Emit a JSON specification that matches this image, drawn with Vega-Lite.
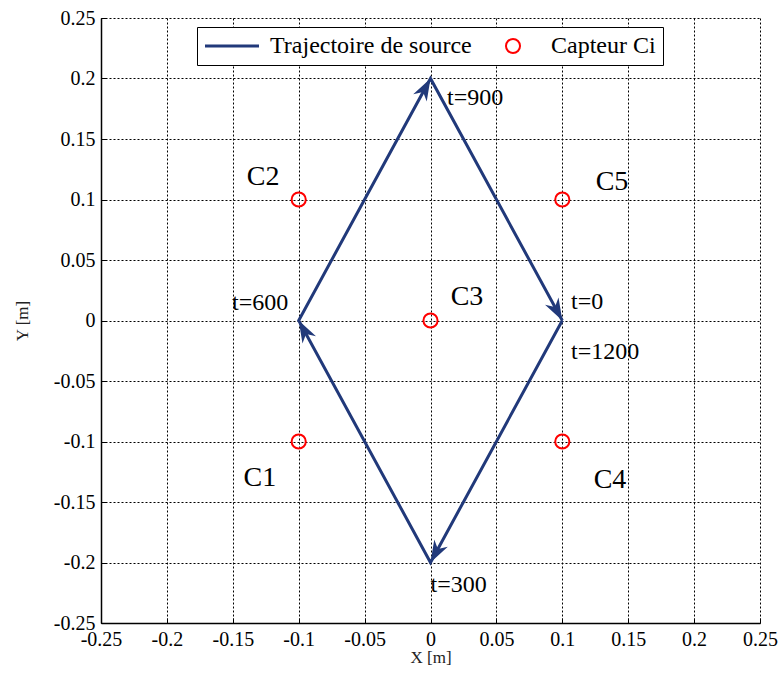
{
  "$schema": "https://vega.github.io/schema/vega-lite/v6.json",
  "width": 659,
  "height": 605,
  "autosize": {"type": "none"},
  "padding": {"left": 101, "top": 18, "right": 22, "bottom": 55},
  "background": "white",
  "config": {
    "view": {"stroke": null},
    "font": "Liberation Serif",
    "axis": {
      "grid": true,
      "gridColor": "black",
      "gridDash": [2, 2],
      "gridWidth": 1,
      "gridOpacity": 1,
      "domainColor": "black",
      "domainWidth": 1.5,
      "tickColor": "black",
      "tickSize": -5,
      "labelPadding": 11,
      "labelFont": "Liberation Serif",
      "labelFontSize": 20,
      "labelColor": "black",
      "titleFont": "Liberation Serif",
      "titleFontSize": 17,
      "titleFontWeight": "normal",
      "titleColor": "#222222"
    },
    "text": {"font": "Liberation Serif"}
  },
  "datasets": {
    "traj": [
      {"t": 0, "x": 0.1, "y": 0},
      {"t": 300, "x": 0, "y": -0.2},
      {"t": 600, "x": -0.1, "y": 0},
      {"t": 900, "x": 0, "y": 0.2},
      {"t": 1200, "x": 0.1, "y": 0}
    ],
    "tlabels": [
      {"label": "t=0", "lx": 0.1066, "ly": 0.0153},
      {"label": "t=300", "lx": 0.0, "ly": -0.2186},
      {"label": "t=600", "lx": -0.1506, "ly": 0.0141},
      {"label": "t=900", "lx": 0.0125, "ly": 0.184},
      {"label": "t=1200", "lx": 0.1066, "ly": -0.026}
    ],
    "sensors": [
      {"name": "C1", "x": -0.1, "y": -0.1, "lx": -0.1294, "ly": -0.13},
      {"name": "C2", "x": -0.1, "y": 0.1, "lx": -0.127, "ly": 0.1186},
      {"name": "C3", "x": 0, "y": 0, "lx": 0.0277, "ly": 0.0194},
      {"name": "C4", "x": 0.1, "y": -0.1, "lx": 0.1362, "ly": -0.1318},
      {"name": "C5", "x": 0.1, "y": 0.1, "lx": 0.1377, "ly": 0.1145}
    ]
  },
  "layer": [
    {
      "data": {"name": "traj"},
      "mark": {"type": "line", "strokeWidth": 3},
      "encoding": {
        "x": {
          "field": "x",
          "type": "quantitative",
          "scale": {"domain": [-0.25, 0.25], "nice": false, "zero": false},
          "axis": {
            "title": "X [m]",
            "values": [-0.25, -0.2, -0.15, -0.1, -0.05, 0, 0.05, 0.1, 0.15, 0.2, 0.25],
            "labelExpr": "datum.value + ''",
            "labelFlush": false,
            "titlePadding": 0
          }
        },
        "y": {
          "field": "y",
          "type": "quantitative",
          "scale": {"domain": [-0.25, 0.25], "nice": false, "zero": false},
          "axis": {
            "title": "Y [m]",
            "values": [-0.25, -0.2, -0.15, -0.1, -0.05, 0, 0.05, 0.1, 0.15, 0.2, 0.25],
            "labelExpr": "datum.value + ''",
            "labelFlush": false,
            "titlePadding": 22
          }
        },
        "order": {"field": "t", "type": "quantitative"},
        "color": {
          "datum": "Trajectoire de source",
          "type": "nominal",
          "scale": {"domain": ["Trajectoire de source", "Capteur Ci"], "range": ["#21397a", "#ff0000"]},
          "legend": {
            "title": null,
            "orient": "none",
            "legendX": 96,
            "legendY": 9,
            "direction": "horizontal",
            "strokeColor": "black",
            "fillColor": "white",
            "padding": 7,
            "labelFont": "Liberation Serif",
            "labelFontSize": 24,
            "labelColor": "black",
            "labelLimit": 0,
            "labelOffset": 26,
            "symbolOffset": 16,
            "columnPadding": 13,
            "symbolType": "stroke",
            "symbolSize": 2916,
            "symbolStrokeWidth": 3,
            "encode": {
              "symbols": {
                "update": {
                  "shape": {"signal": "datum.value === 'Capteur Ci' ? 'M0.26,0C0.26,0.1436 0.1436,0.26 0,0.26C-0.1436,0.26 -0.26,0.1436 -0.26,0C-0.26,-0.1436 -0.1436,-0.26 0,-0.26C0.1436,-0.26 0.26,-0.1436 0.26,0Z' : 'stroke'"},
                  "strokeWidth": {"signal": "datum.value === 'Capteur Ci' ? 2 : 3"},
                  "fill": {"value": "transparent"}
                }
              }
            }
          }
        }
      }
    },
    {
      "mark": {"type": "rule", "color": "black", "strokeWidth": 1},
      "encoding": {"x": {"datum": 0, "type": "quantitative"}}
    },
    {
      "mark": {"type": "rule", "color": "black", "strokeWidth": 1},
      "encoding": {"y": {"datum": 0, "type": "quantitative"}}
    },
    {
      "data": {"name": "traj"},
      "transform": [{"filter": "datum.t === 300"}],
      "mark": {"type": "point", "shape": "M0,0L0.7,2L0,1.4L-0.7,2Z", "filled": true, "size": 484, "color": "#21397a", "opacity": 1, "angle": 208.6},
      "encoding": {"x": {"field": "x", "type": "quantitative"}, "y": {"field": "y", "type": "quantitative"}}
    },
    {
      "data": {"name": "traj"},
      "transform": [{"filter": "datum.t === 600"}],
      "mark": {"type": "point", "shape": "M0,0L0.7,2L0,1.4L-0.7,2Z", "filled": true, "size": 484, "color": "#21397a", "opacity": 1, "angle": 331.4},
      "encoding": {"x": {"field": "x", "type": "quantitative"}, "y": {"field": "y", "type": "quantitative"}}
    },
    {
      "data": {"name": "traj"},
      "transform": [{"filter": "datum.t === 900"}],
      "mark": {"type": "point", "shape": "M0,0L0.7,2L0,1.4L-0.7,2Z", "filled": true, "size": 484, "color": "#21397a", "opacity": 1, "angle": 28.6},
      "encoding": {"x": {"field": "x", "type": "quantitative"}, "y": {"field": "y", "type": "quantitative"}}
    },
    {
      "data": {"name": "traj"},
      "transform": [{"filter": "datum.t === 1200"}],
      "mark": {"type": "point", "shape": "M0,0L0.7,2L0,1.4L-0.7,2Z", "filled": true, "size": 484, "color": "#21397a", "opacity": 1, "angle": 151.4},
      "encoding": {"x": {"field": "x", "type": "quantitative"}, "y": {"field": "y", "type": "quantitative"}}
    },
    {
      "data": {"name": "sensors"},
      "mark": {"type": "point", "shape": "circle", "filled": false, "size": 200, "strokeWidth": 2, "opacity": 1},
      "encoding": {
        "x": {"field": "x", "type": "quantitative"},
        "y": {"field": "y", "type": "quantitative"},
        "color": {"datum": "Capteur Ci", "type": "nominal"}
      }
    },
    {
      "data": {"name": "sensors"},
      "mark": {"type": "text", "fontSize": 28, "font": "Liberation Serif", "align": "center", "baseline": "middle", "color": "black"},
      "encoding": {
        "x": {"field": "lx", "type": "quantitative"},
        "y": {"field": "ly", "type": "quantitative"},
        "text": {"field": "name"}
      }
    },
    {
      "data": {"name": "tlabels"},
      "mark": {"type": "text", "fontSize": 24, "font": "Liberation Serif", "align": "left", "baseline": "middle", "color": "black"},
      "encoding": {
        "x": {"field": "lx", "type": "quantitative"},
        "y": {"field": "ly", "type": "quantitative"},
        "text": {"field": "label"}
      }
    }
  ]
}
